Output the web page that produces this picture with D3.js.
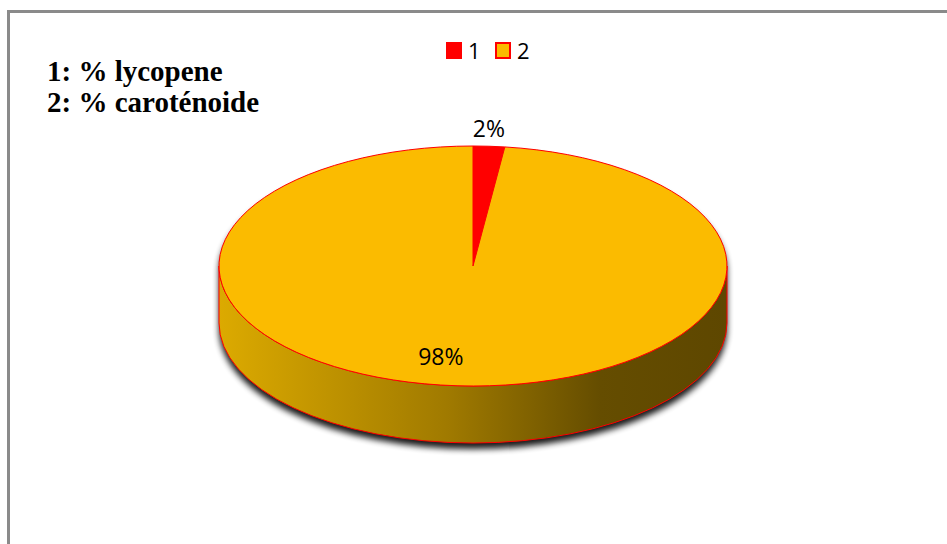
<!DOCTYPE html>
<html>
<head>
<meta charset="utf-8">
<script src="https://cdn.jsdelivr.net/npm/d3@7"></script>
<style>
  html, body { margin: 0; padding: 0; background: #fff; }
  svg { display: block; }
</style>
</head>
<body>
<svg id="chart" width="947" height="544"></svg>
<script>
// ---- data ----
const categories = ["1", "2"];
const values = [2, 98];
const sliceLabels = ["2%", "98%"];
const noteLines = ["1: % lycopene", "2: % caroténoide"];
const topColors = ["#ff0000", "#fbbb00"];
const sideStops = [["#dcaa00", "#a07a00", "#654d00", "#5e4700"], ["#dcaa00", "#a07a00", "#654d00", "#5e4700"]];

// ---- layout ----
const W = 947, H = 544;
const cx = 473, cy = 266, rx = 254, ry = 120, depth = 57;

const svg = d3.select("#chart");
const defs = svg.append("defs");

// frame
svg.append("rect")
  .attr("x", 8.5).attr("y", 11.5)
  .attr("width", W + 20).attr("height", H + 20)
  .attr("fill", "#fff").attr("stroke", "#8a8a8a").attr("stroke-width", 3);

// notes
const notes = svg.append("g").attr("transform", "translate(47,0)");
notes.selectAll("text").data(noteLines).join("text")
  .attr("x", 0)
  .attr("y", (d, i) => 81 + i * 31)
  .attr("font-family", "'Liberation Serif', 'Times New Roman', serif")
  .attr("font-weight", "bold")
  .attr("font-size", 29)
  .attr("fill", "#000")
  .text(d => d);

// legend
const legend = svg.append("g").attr("transform", "translate(446,42)");
const legItems = legend.selectAll("g").data(categories).join("g")
  .attr("transform", (d, i) => `translate(${i * 49},0)`);
legItems.append("rect")
  .attr("x", 1).attr("y", 1).attr("width", 14).attr("height", 15)
  .attr("fill", (d, i) => topColors[i])
  .attr("stroke", "#ff0000").attr("stroke-width", 2);
legItems.append("text")
  .attr("x", 22).attr("y", 16.5)
  .attr("font-family", "'Open Sans', sans-serif")
  .attr("font-size", 22)
  .attr("fill", "#000")
  .text(d => d);

// pie
const pie = d3.pie().sort(null).value(d => d).startAngle(0).endAngle(2 * Math.PI);
const arcsData = pie(values);
const P = a => [cx + rx * Math.sin(a), cy - ry * Math.cos(a)];

// shadow filter
const f = defs.append("filter").attr("id", "shadow")
  .attr("x", "-10%").attr("y", "-10%").attr("width", "120%").attr("height", "130%");
f.append("feGaussianBlur").attr("stdDeviation", 3);

// side gradients
arcsData.forEach((d, i) => {
  const g = defs.append("linearGradient").attr("id", "side" + i)
    .attr("gradientUnits", "userSpaceOnUse")
    .attr("x1", cx - rx).attr("x2", cx + rx).attr("y1", 0).attr("y2", 0);
  const offs = [0, 0.45, 0.75, 1];
  sideStops[i].forEach((c, k) => g.append("stop").attr("offset", offs[k]).attr("stop-color", c));
});

function sidePath(a0, a1) {
  const p0 = P(a0), p1 = P(a1);
  const large = (a1 - a0) > Math.PI ? 1 : 0;
  return `M${p0[0]},${p0[1]} L${p0[0]},${p0[1] + depth} ` +
    `A${rx},${ry} 0 ${large} 1 ${p1[0]},${p1[1] + depth} ` +
    `L${p1[0]},${p1[1]} A${rx},${ry} 0 ${large} 0 ${p0[0]},${p0[1]} Z`;
}

// shadow: whole disc + side, offset and blurred
svg.append("path")
  .attr("d", sidePath(Math.PI / 2, 3 * Math.PI / 2) +
    ` M${cx - rx},${cy} A${rx},${ry} 0 1 1 ${cx + rx},${cy} A${rx},${ry} 0 1 1 ${cx - rx},${cy} Z`)
  .attr("transform", "translate(0,6)")
  .attr("fill", "#000").attr("opacity", 0.9)
  .attr("filter", "url(#shadow)");

// sides (front half only)
const sides = svg.append("g");
arcsData.forEach((d, i) => {
  const a0 = Math.max(d.startAngle, Math.PI / 2);
  const a1 = Math.min(d.endAngle, 3 * Math.PI / 2);
  if (a1 > a0) {
    sides.append("path")
      .attr("d", sidePath(a0, a1))
      .attr("fill", `url(#side${i})`)
      .attr("stroke", "#ff0000").attr("stroke-width", 1).attr("stroke-linejoin", "round");
  }
});

// top
const arc = d3.arc().innerRadius(0).outerRadius(rx);
svg.append("g")
  .attr("transform", `translate(${cx},${cy}) scale(1,${ry / rx})`)
  .selectAll("path").data(arcsData).join("path")
  .attr("d", arc)
  .attr("fill", (d, i) => topColors[i])
  .attr("stroke", "#ff0000")
  .attr("stroke-width", 1)
  .attr("vector-effect", "non-scaling-stroke");

// labels
svg.append("g").selectAll("text").data(arcsData).join("text")
  .attr("x", (d) => {
    const m = (d.startAngle + d.endAngle) / 2;
    const small = (d.endAngle - d.startAngle) < 0.5;
    return small ? cx + 1.0 * rx * Math.sin(m) : cx + 0.76 * rx * Math.sin(m) - 20;
  })
  .attr("y", (d) => {
    const m = (d.startAngle + d.endAngle) / 2;
    const small = (d.endAngle - d.startAngle) < 0.5;
    return (small ? cy - 1.14 * ry * Math.cos(m) : cy - 0.76 * ry * Math.cos(m)) + 8;
  })
  .attr("text-anchor", "middle")
  .attr("font-family", "'Open Sans', sans-serif")
  .attr("font-size", 23)
  .attr("fill", "#000")
  .text((d, i) => sliceLabels[i]);
</script>
</body>
</html>
